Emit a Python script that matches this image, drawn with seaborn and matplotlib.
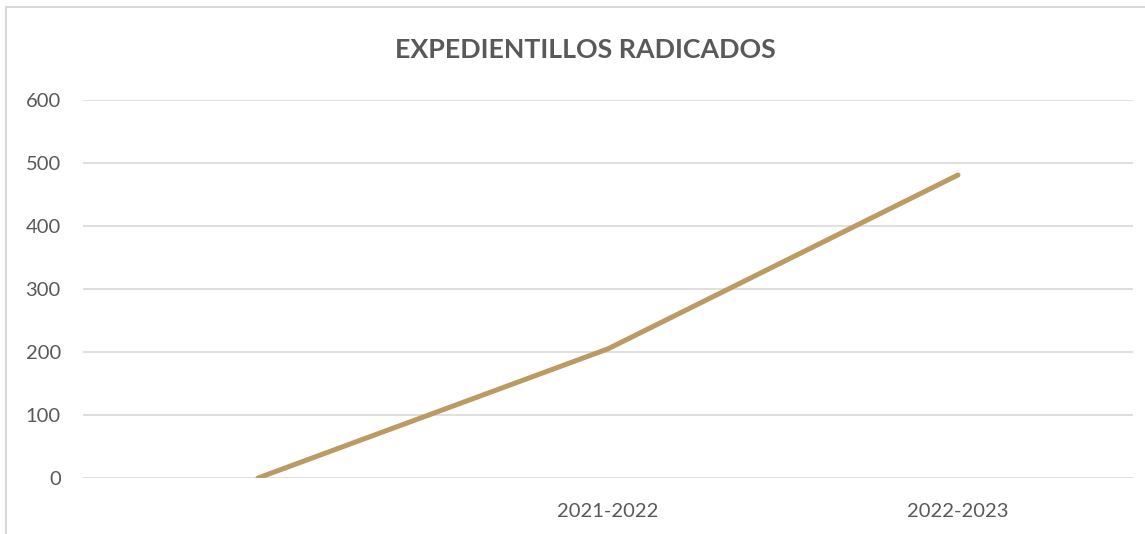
import matplotlib
matplotlib.use("Agg")
import matplotlib.pyplot as plt
import seaborn as sns
from matplotlib.patches import Rectangle

# data
periods = ["", "2021-2022", "2022-2023"]
radicados = [0, 205, 481]
y_ticks = [0, 100, 200, 300, 400, 500, 600]

sns.set_style("white")
plt.rcParams["font.family"] = ["Lato", "DejaVu Sans"]

fig = plt.figure(figsize=(11.45, 5.34), dpi=100)
ax = fig.add_axes([83 / 1145, 1 - 478 / 534, (1133 - 83) / 1145, (478 - 100) / 534])

sns.lineplot(x=periods, y=radicados, ax=ax, color="#BB9A63", linewidth=3.6,
             solid_capstyle="round", sort=False)

ax.set_xlim(-0.5, 2.5)
ax.set_ylim(0, 600)
ax.set_yticks(y_ticks)
ax.yaxis.grid(True, color="#D9D9D9", linewidth=1.2)
ax.set_axisbelow(True)
for s in ax.spines.values():
    s.set_visible(False)
ax.tick_params(axis="both", length=0, labelsize=14.5, labelcolor="#595959")
ax.tick_params(axis="y", pad=16)
ax.tick_params(axis="x", pad=18)

fig.text(585 / 1145, 1 - 50 / 534, "EXPEDIENTILLOS RADICADOS", ha="center", va="center",
         fontsize=19.3, fontweight="bold", color="#595959")

# outer chart border (partly cut off on the right and bottom)
fig.patches.append(Rectangle((6 / 1145, -0.1), 1.2, 1.1 - 7 / 534, transform=fig.transFigure,
                             fill=False, edgecolor="#D9D9D9", linewidth=1.5))

fig.savefig("out.png", dpi=100)
